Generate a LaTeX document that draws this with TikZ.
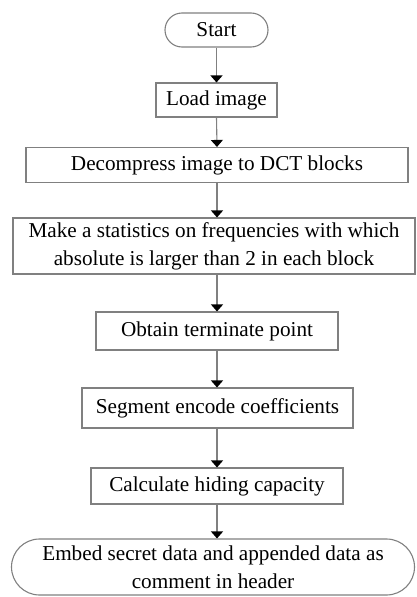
\documentclass[tikz,border=0pt]{standalone}
\usepackage{fontspec}
\setmainfont{Liberation Serif}
\usetikzlibrary{arrows.meta}
\tikzset{
  box/.style={draw=black!50, line width=1.1pt, rectangle, inner sep=0pt, align=center, font=\fontsize{21.2}{28}\selectfont},
  term/.style={box, rounded corners=#1},
  flow/.style={draw=black!50, line width=1.1pt, -{Triangle[width=12pt,length=7pt,color=black]}},
}
\begin{document}
\begin{tikzpicture}[x=1pt,y=-1pt]
\useasboundingbox (0,0) rectangle (416,597);
\node[term=17pt, minimum width=103pt, minimum height=34pt] (start) at (216.5,30) {Start};
\node[box, minimum width=121pt, minimum height=34pt] (load) at (216.5,100) {Load image};
\node[box, minimum width=382pt, minimum height=35pt] (decomp) at (217,165) {Decompress image to DCT blocks};
\node[box, minimum width=402pt, minimum height=56pt] (stats) at (214,246) {Make a statistics on frequencies with which\\absolute is larger than 2 in each block};
\node[box, minimum width=242pt, minimum height=38pt] (obtain) at (217,331) {Obtain terminate point};
\node[box, minimum width=271pt, minimum height=40pt] (segment) at (217.5,408) {Segment encode coefficients};
\node[box, minimum width=252pt, minimum height=36pt] (calc) at (217,486) {Calculate hiding capacity};
\node[term=28pt, minimum width=403pt, minimum height=56pt] (embed) at (213,567) {Embed secret data and appended data as\\comment in header};
\draw[flow] (start.south) -- (load.north);
\draw[flow] (load.south) -- (decomp.north);
\draw[flow] (decomp.south) -- (decomp.south |- stats.north);
\draw[flow] (decomp.south |- stats.south) -- (obtain.north);
\draw[flow] (obtain.south) -- (obtain.south |- segment.north);
\draw[flow] (obtain.south |- segment.south) -- (obtain.south |- calc.north);
\draw[flow] (calc.south) -- (calc.south |- embed.north);
\end{tikzpicture}
\end{document}
